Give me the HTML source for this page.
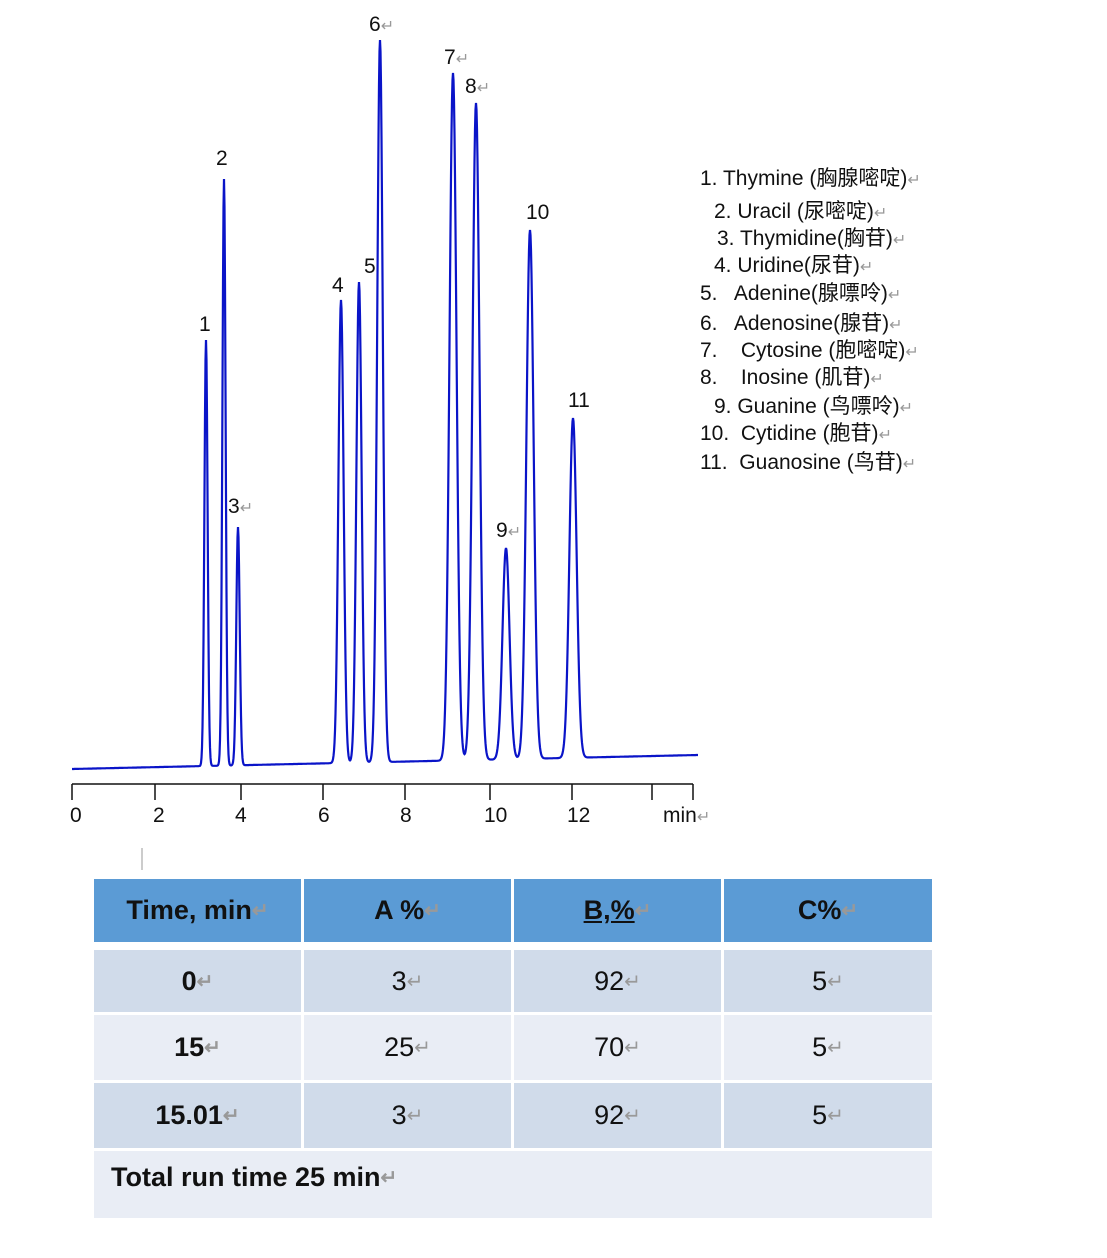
<!DOCTYPE html>
<html><head><meta charset="utf-8"><style>
body{margin:0;width:1107px;height:1258px;background:#fff;position:relative;overflow:hidden;font-family:"Liberation Sans","Noto Sans CJK SC",sans-serif}
.a{position:absolute;white-space:nowrap}
.pk{position:absolute;font-size:21px;color:#111}
.tl{position:absolute;font-size:21px;color:#111}
.lg{position:absolute;font-size:21px;color:#111;left:0}
.ret{color:#999;font-size:16px}
.c{position:absolute;display:flex;align-items:center;justify-content:center;font-size:27px;color:#111;font-family:"Liberation Sans",sans-serif}
.h{background:#5b9bd5;font-weight:bold}
.d{background:#d0dbea}.l{background:#e9edf5}
.b{font-weight:bold}
.r{color:#999;font-size:20px}
</style></head><body>
<svg class="a" style="left:0;top:0" width="1107" height="870">
<path id="tr" fill="none" stroke="#0a14c8" stroke-width="2.2"/>
<g stroke="#111" stroke-width="1.5">
<line x1="72" y1="784" x2="693" y2="784"/>
<line x1="72" y1="784" x2="72" y2="800"/><line x1="155" y1="784" x2="155" y2="800"/>
<line x1="241" y1="784" x2="241" y2="800"/><line x1="323" y1="784" x2="323" y2="800"/>
<line x1="405" y1="784" x2="405" y2="800"/><line x1="490" y1="784" x2="490" y2="800"/>
<line x1="572" y1="784" x2="572" y2="800"/><line x1="652" y1="784" x2="652" y2="800"/>
<line x1="693" y1="784" x2="693" y2="800"/>
<line x1="142" y1="848" x2="142" y2="870" stroke="#999" stroke-width="1"/>
</g>
</svg>
<div class="tl" style="left:70px;top:804px">0</div>
<div class="tl" style="left:153px;top:804px">2</div>
<div class="tl" style="left:235px;top:804px">4</div>
<div class="tl" style="left:318px;top:804px">6</div>
<div class="tl" style="left:400px;top:804px">8</div>
<div class="tl" style="left:484px;top:804px">10</div>
<div class="tl" style="left:567px;top:804px">12</div>
<div class="tl" style="left:663px;top:804px">min<span class="ret">↵</span></div>
<div class="pk" style="left:199px;top:313px">1</div>
<div class="pk" style="left:216px;top:147px">2</div>
<div class="pk" style="left:228px;top:495px">3<span class="ret">↵</span></div>
<div class="pk" style="left:332px;top:274px">4</div>
<div class="pk" style="left:364px;top:255px">5</div>
<div class="pk" style="left:369px;top:13px">6<span class="ret">↵</span></div>
<div class="pk" style="left:444px;top:46px">7<span class="ret">↵</span></div>
<div class="pk" style="left:465px;top:75px">8<span class="ret">↵</span></div>
<div class="pk" style="left:496px;top:519px">9<span class="ret">↵</span></div>
<div class="pk" style="left:526px;top:201px">10</div>
<div class="pk" style="left:568px;top:389px">11</div>
<div class="a" style="left:700px;top:162px;width:260px;height:320px">
<div class="lg" style="top:0">1. Thymine (胸腺嘧啶)<span class="ret">↵</span></div>
<div class="lg" style="top:33px;left:14px">2. Uracil (尿嘧啶)<span class="ret">↵</span></div>
<div class="lg" style="top:60px;left:17px">3. Thymidine(胸苷)<span class="ret">↵</span></div>
<div class="lg" style="top:87px;left:14px">4. Uridine(尿苷)<span class="ret">↵</span></div>
<div class="lg" style="top:115px">5.&nbsp;&nbsp; Adenine(腺嘌呤)<span class="ret">↵</span></div>
<div class="lg" style="top:145px">6.&nbsp;&nbsp; Adenosine(腺苷)<span class="ret">↵</span></div>
<div class="lg" style="top:172px">7.&nbsp;&nbsp;&nbsp; Cytosine (胞嘧啶)<span class="ret">↵</span></div>
<div class="lg" style="top:199px">8.&nbsp;&nbsp;&nbsp; Inosine (肌苷)<span class="ret">↵</span></div>
<div class="lg" style="top:228px;left:14px">9. Guanine (鸟嘌呤)<span class="ret">↵</span></div>
<div class="lg" style="top:255px">10.&nbsp; Cytidine (胞苷)<span class="ret">↵</span></div>
<div class="lg" style="top:284px">11.&nbsp; Guanosine (鸟苷)<span class="ret">↵</span></div>
</div>

<div class="c h" style="left:94px;top:879px;width:207px;height:63px">Time, min<span class="r">↵</span></div>
<div class="c h" style="left:304px;top:879px;width:207px;height:63px">A %<span class="r">↵</span></div>
<div class="c h" style="left:514px;top:879px;width:207px;height:63px"><u>B,%</u><span class="r">↵</span></div>
<div class="c h" style="left:724px;top:879px;width:208px;height:63px">C%<span class="r">↵</span></div>

<div class="c d b" style="left:94px;top:950px;width:207px;height:62px">0<span class="r">↵</span></div>
<div class="c d" style="left:304px;top:950px;width:207px;height:62px">3<span class="r">↵</span></div>
<div class="c d" style="left:514px;top:950px;width:207px;height:62px">92<span class="r">↵</span></div>
<div class="c d" style="left:724px;top:950px;width:208px;height:62px">5<span class="r">↵</span></div>

<div class="c l b" style="left:94px;top:1015px;width:207px;height:65px">15<span class="r">↵</span></div>
<div class="c l" style="left:304px;top:1015px;width:207px;height:65px">25<span class="r">↵</span></div>
<div class="c l" style="left:514px;top:1015px;width:207px;height:65px">70<span class="r">↵</span></div>
<div class="c l" style="left:724px;top:1015px;width:208px;height:65px">5<span class="r">↵</span></div>

<div class="c d b" style="left:94px;top:1083px;width:207px;height:65px">15.01<span class="r">↵</span></div>
<div class="c d" style="left:304px;top:1083px;width:207px;height:65px">3<span class="r">↵</span></div>
<div class="c d" style="left:514px;top:1083px;width:207px;height:65px">92<span class="r">↵</span></div>
<div class="c d" style="left:724px;top:1083px;width:208px;height:65px">5<span class="r">↵</span></div>

<div class="c l b" style="left:94px;top:1151px;width:838px;height:67px;justify-content:flex-start;padding-left:17px;box-sizing:border-box;padding-bottom:14px">Total run time 25 min<span class="r">↵</span></div>

<script>
var pk=[[206,340,1.6],[224,179,1.6],[238,527,1.7],[341,300,2.6],[359,282,2.6],[380,40,2.8],[453,73,3.5],[476,103,3.5],[506,548,3.5],[530,230,3.6],[573,418,3.6]];
function base(x){return 769-(x-72)*14/626;}
var d="";
for(var x=72;x<=698;x+=0.5){var b=base(x),y=b;
for(var i=0;i<pk.length;i++){var p=pk[i];var h=base(p[0])-p[1];var s=p[2];var t=(x-p[0])/s;y-=h*Math.exp(-0.5*t*t);}
d+=(x==72?"M":"L")+x+" "+y.toFixed(1);}
document.getElementById("tr").setAttribute("d",d);
</script>
</body></html>
